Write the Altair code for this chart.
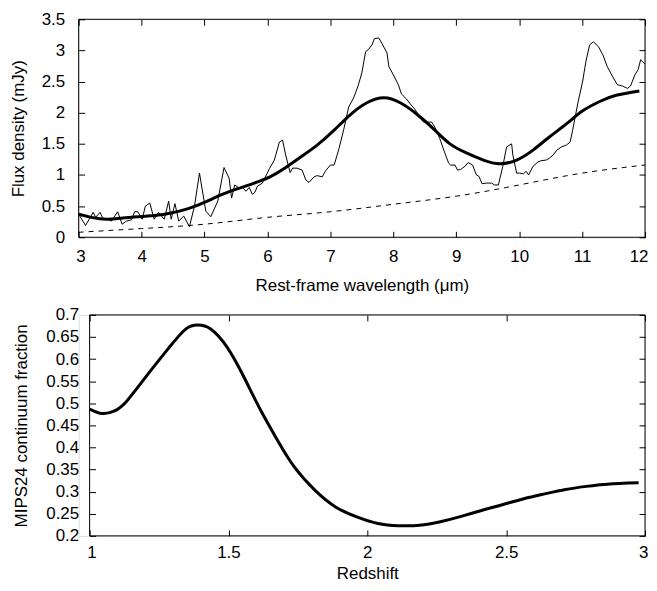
import altair as alt
import pandas as pd

# ---------------- data: top panel ----------------
spec_wl = [3.00, 3.11, 3.23, 3.27, 3.34, 3.39, 3.45, 3.52, 3.62, 3.69, 3.76, 3.84, 3.89, 3.94,
           4.01, 4.06, 4.13, 4.20, 4.27, 4.36, 4.43, 4.47, 4.53, 4.59, 4.67, 4.76, 4.84, 4.92,
           5.02, 5.10, 5.21, 5.31, 5.39, 5.43, 5.48, 5.55, 5.60, 5.66, 5.71, 5.76, 5.80, 5.84,
           5.92, 6.03, 6.11, 6.19, 6.24, 6.29, 6.36, 6.40, 6.47, 6.55, 6.61, 6.66, 6.74, 6.79,
           6.87, 6.92, 7.00, 7.06, 7.13, 7.21, 7.29, 7.37, 7.44, 7.50, 7.56, 7.61, 7.66, 7.70,
           7.77, 7.82, 7.90, 7.93, 8.00, 8.08, 8.13, 8.21, 8.27, 8.34, 8.42, 8.48, 8.56, 8.61,
           8.66, 8.74, 8.82, 8.88, 8.91, 8.98, 9.02, 9.07, 9.14, 9.19, 9.26, 9.32, 9.36, 9.41,
           9.48, 9.56, 9.61, 9.67, 9.74, 9.80, 9.88, 9.90, 9.96, 10.01, 10.07, 10.11, 10.15,
           10.22, 10.30, 10.35, 10.43, 10.48, 10.54, 10.60, 10.67, 10.75, 10.81, 10.85, 10.93,
           11.01, 11.06, 11.12, 11.18, 11.26, 11.33, 11.40, 11.48, 11.56, 11.64, 11.72, 11.77,
           11.84, 11.89, 11.93, 11.98, 12.00]
spec_flux = [0.37, 0.19, 0.40, 0.32, 0.40, 0.29, 0.30, 0.26, 0.41, 0.21, 0.26, 0.28, 0.41, 0.41,
             0.29, 0.50, 0.55, 0.29, 0.40, 0.29, 0.58, 0.29, 0.54, 0.26, 0.34, 0.17, 0.50, 1.03,
             0.42, 0.33, 0.58, 1.12, 0.95, 0.63, 0.84, 0.79, 0.80, 0.74, 0.80, 0.69, 0.72, 0.82,
             0.87, 1.10, 1.24, 1.53, 1.56, 1.32, 1.04, 1.11, 1.11, 1.08, 0.92, 0.88, 0.97, 0.99,
             0.97, 1.06, 1.16, 1.16, 1.40, 1.72, 2.09, 2.24, 2.43, 2.64, 2.98, 3.02, 3.09, 3.19,
             3.20, 3.11, 2.96, 2.74, 2.61, 2.45, 2.30, 2.22, 2.14, 2.06, 1.93, 1.85, 1.85, 1.85,
             1.77, 1.58, 1.35, 1.19, 1.16, 1.16, 1.08, 1.09, 1.14, 1.20, 1.16, 1.00, 0.98, 0.86,
             0.87, 0.87, 0.84, 0.84, 1.14, 1.45, 1.50, 1.32, 1.03, 1.03, 1.02, 1.06, 1.00,
             1.14, 1.21, 1.23, 1.24, 1.27, 1.32, 1.40, 1.45, 1.48, 1.53, 1.72, 2.14,
             2.51, 2.82, 3.09, 3.14, 3.06, 2.93, 2.74, 2.59, 2.45, 2.43, 2.39, 2.43,
             2.61, 2.69, 2.85, 2.80, 2.78]

model_wl = [3.0, 3.2, 3.45, 3.7, 3.95, 4.2, 4.47, 4.74, 5.0, 5.26, 5.53, 5.79, 6.04, 6.26,
            6.53, 6.79, 7.06, 7.32, 7.58, 7.85, 8.11, 8.37, 8.64, 8.90, 9.17, 9.43, 9.69,
            9.96, 10.22, 10.48, 10.75, 11.01, 11.28, 11.54, 11.91]
model_flux = [0.37, 0.32, 0.29, 0.31, 0.33, 0.35, 0.39, 0.46, 0.56, 0.68, 0.78, 0.87, 0.97, 1.10,
              1.29, 1.48, 1.72, 1.97, 2.16, 2.24, 2.16, 1.98, 1.74, 1.50, 1.35, 1.24, 1.18,
              1.24, 1.40, 1.61, 1.82, 2.03, 2.18, 2.28, 2.35]

cont_wl = [3, 4, 5, 6, 7, 8, 9, 10, 11, 12]
cont_flux = [0.08, 0.14, 0.21, 0.32, 0.41, 0.53, 0.66, 0.84, 1.03, 1.16]

top_x_ticks = [3, 4, 5, 6, 7, 8, 9, 10, 11, 12]
top_y_ticks = [0, 0.5, 1, 1.5, 2, 2.5, 3, 3.5]

# ---------------- data: bottom panel ----------------
z_vals = [1.0, 1.045, 1.09, 1.135, 1.21, 1.286, 1.346, 1.39, 1.436, 1.496, 1.556, 1.617,
          1.677, 1.737, 1.812, 1.887, 1.962, 2.038, 2.113, 2.188, 2.263, 2.338, 2.414,
          2.489, 2.564, 2.639, 2.714, 2.789, 2.865, 2.977]
frac_vals = [0.487, 0.477, 0.483, 0.506, 0.566, 0.626, 0.668, 0.677, 0.668, 0.626, 0.559,
             0.483, 0.416, 0.356, 0.303, 0.265, 0.243, 0.228, 0.223, 0.224, 0.232, 0.244,
             0.258, 0.271, 0.284, 0.295, 0.305, 0.312, 0.317, 0.320]

bot_x_ticks = [1, 1.5, 2, 2.5, 3]
bot_y_ticks = [0.2, 0.25, 0.3, 0.35, 0.4, 0.45, 0.5, 0.55, 0.6, 0.65, 0.7]

FONT = "Liberation Sans"
FS = 17


def main_axis(title, values, fmt, title_pad, label_pad, flush, offset=-6):
    return alt.Axis(title=title, values=values, format=fmt, offset=offset, tickSize=6,
                    tickColor="black", tickWidth=1, domain=False, grid=False,
                    labelPadding=label_pad, titlePadding=title_pad, labelFont=FONT,
                    labelFontSize=FS, labelColor="black", titleFont=FONT, titleFontSize=FS,
                    titleFontWeight="normal", titleColor="black", labelFlush=flush,
                    labelFlushOffset=3, labelOverlap=False)


def mirror_axis(orient, values):
    return alt.Axis(orient=orient, values=values, offset=-6, tickSize=6, tickColor="black",
                    tickWidth=1, domain=False, grid=False, labels=False, title=None)


one_row = pd.DataFrame({"k": [0]})

# ---------------- top panel ----------------
spec_df = pd.DataFrame({"wl": spec_wl, "flux": spec_flux})
model_df = pd.DataFrame({"wl": model_wl, "flux": model_flux})
cont_df = pd.DataFrame({"wl": cont_wl, "flux": cont_flux})

tx = alt.Scale(domain=[3, 12], nice=False, zero=False)
ty = alt.Scale(domain=[0, 3.5], nice=False, zero=False)

spec_line = alt.Chart(spec_df).mark_line(color="black", strokeWidth=1).encode(
    x=alt.X("wl:Q", scale=tx,
            axis=main_axis("Rest-frame wavelength (\u03bcm)", top_x_ticks, "d", 13, 11, True)),
    y=alt.Y("flux:Q", scale=ty,
            axis=main_axis("Flux density (mJy)", top_y_ticks, "~g", 14, 14, False)),
)
model_line = alt.Chart(model_df).mark_line(color="black", strokeWidth=3,
                                           interpolate="natural").encode(
    x=alt.X("wl:Q", scale=tx, axis=None),
    y=alt.Y("flux:Q", scale=ty, axis=None),
)
cont_line = alt.Chart(cont_df).mark_line(color="black", strokeWidth=1, strokeDash=[5, 5],
                                         interpolate="natural").encode(
    x=alt.X("wl:Q", scale=tx, axis=None),
    y=alt.Y("flux:Q", scale=ty, axis=None),
)
top_frame = alt.Chart(one_row).mark_rect(fillOpacity=0, stroke="black", strokeWidth=1).encode(
    x=alt.XDatum(3, scale=tx, axis=mirror_axis("top", top_x_ticks)),
    x2=alt.X2Datum(12),
    y=alt.YDatum(0, scale=ty, axis=mirror_axis("right", top_y_ticks)),
    y2=alt.Y2Datum(3.5),
)

top = alt.layer(spec_line, model_line, cont_line, top_frame).resolve_axis(
    x="independent", y="independent").properties(width=569, height=219)

# ---------------- bottom panel ----------------
frac_df = pd.DataFrame({"z": z_vals, "frac": frac_vals})
bx = alt.Scale(domain=[1, 3], nice=False, zero=False, range=[11, 569])
by = alt.Scale(domain=[0.2, 0.7], nice=False, zero=False)

frac_line = alt.Chart(frac_df).mark_line(color="black", strokeWidth=3,
                                         interpolate="natural").encode(
    x=alt.X("z:Q", scale=bx, axis=main_axis("Redshift", bot_x_ticks, "~g", 5, 9, True)),
    y=alt.Y("frac:Q", scale=by,
            axis=main_axis("MIPS24 continuum fraction", bot_y_ticks, "~g", 15, 11, False,
                           offset=-17)),
)
bot_frame = alt.Chart(one_row).mark_rect(fillOpacity=0, stroke="black", strokeWidth=1).encode(
    x=alt.XDatum(1, scale=bx, axis=mirror_axis("top", bot_x_ticks)),
    x2=alt.X2Datum(3),
    y=alt.YDatum(0.2, scale=by, axis=mirror_axis("right", bot_y_ticks)),
    y2=alt.Y2Datum(0.7),
)
bottom = alt.layer(frac_line, bot_frame).resolve_axis(
    x="independent", y="independent").properties(width=569, height=222)

chart = alt.vconcat(top, bottom, spacing=11).properties(
    padding=0
).configure_view(strokeOpacity=0).configure(background="white")

chart.save("out.html", embed_options={"renderer": "svg", "actions": False})
